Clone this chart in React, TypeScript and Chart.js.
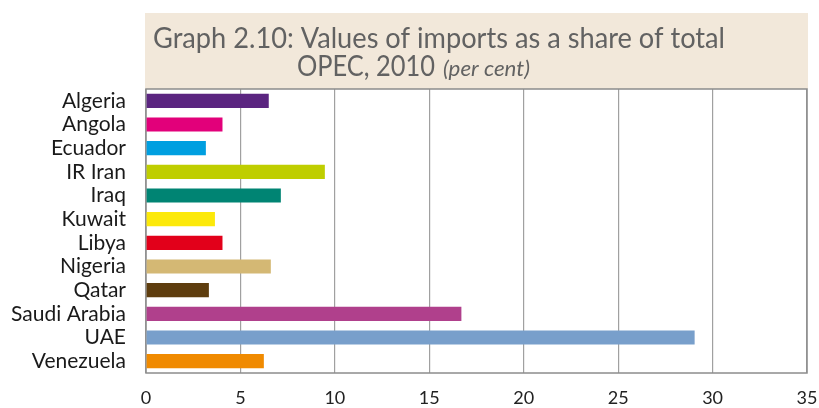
import React, { useEffect, useRef } from 'react';
import { Chart, registerables } from 'chart.js';

Chart.register(...registerables);

const categories = ['Algeria', 'Angola', 'Ecuador', 'IR Iran', 'Iraq', 'Kuwait', 'Libya', 'Nigeria', 'Qatar', 'Saudi Arabia', 'UAE', 'Venezuela'];
const values = [6.5, 4.05, 3.17, 9.47, 7.14, 3.65, 4.05, 6.61, 3.33, 16.7, 29.05, 6.24];
const barColors = ['#5B2580', '#E2007A', '#009FE0', '#BFCE00', '#008473', '#FCE90A', '#E2001A', '#D4B874', '#5E3D0E', '#B0408C', '#789FCB', '#F08A00'];
const xMin = 0;
const xMax = 35;
const xStep = 5;
const titleLine1 = 'Graph 2.10: Values of imports as a share of total';
const titleLine2 = 'OPEC, 2010';
const titleUnit = '(per cent)';

const titlePlugin = {
  id: 'titleBox',
  beforeDraw(chart: any) {
    const ctx = chart.ctx;
    ctx.save();
    ctx.fillStyle = '#F2E8DA';
    ctx.fillRect(145, 13, 663, 76);
    ctx.fillStyle = '#626262';
    ctx.textBaseline = 'alphabetic';
    ctx.textAlign = 'left';
    ctx.font = '28px Lato';
    const w1 = ctx.measureText(titleLine1).width;
    const sx = 572 / w1;
    ctx.save();
    ctx.translate(153, 48);
    ctx.scale(sx, 1);
    ctx.fillText(titleLine1, 0, 0);
    ctx.restore();
    const w2 = ctx.measureText(titleLine2).width;
    ctx.save();
    ctx.translate(297, 76);
    ctx.scale(138 / w2, 1);
    ctx.fillText(titleLine2, 0, 0);
    ctx.restore();
    ctx.font = 'italic 21px Lato';
    const w3 = ctx.measureText(titleUnit).width;
    ctx.save();
    ctx.translate(443, 76);
    ctx.scale(87 / w3, 1);
    ctx.fillText(titleUnit, 0, 0);
    ctx.restore();
    ctx.restore();
  },
  beforeDatasetsDraw(chart: any) {
    const { ctx, chartArea } = chart;
    ctx.save();
    ctx.strokeStyle = '#8c8c8c';
    ctx.lineWidth = 1.5;
    ctx.strokeRect(chartArea.left, chartArea.top, chartArea.right - chartArea.left, chartArea.bottom - chartArea.top);
    ctx.restore();
  },
};

export default function App() {
  const ref = useRef<HTMLCanvasElement>(null);
  useEffect(() => {
    if (!ref.current) return;
    const chart = new Chart(ref.current, {
      type: 'bar',
      data: {
        labels: categories,
        datasets: [
          {
            data: values,
            backgroundColor: barColors,
            borderWidth: 0,
            barPercentage: 0.6,
            categoryPercentage: 1,
          },
        ],
      },
      options: {
        indexAxis: 'y',
        responsive: false,
        animation: false,
        layout: { padding: { top: 89, right: 12, left: 0, bottom: 0 } },
        plugins: { legend: { display: false }, tooltip: { enabled: false } },
        scales: {
          x: {
            min: xMin,
            max: xMax,
            ticks: { stepSize: xStep, color: '#222', font: { family: 'Lato', size: 18 }, padding: 14 },
            grid: { color: '#a0a0a0', lineWidth: 1.2, drawTicks: false },
            border: { display: false },
            afterFit(scale: any) {
              scale.height = 35;
              scale.paddingRight = 0;
              scale.paddingLeft = 0;
            },
          },
          y: {
            ticks: { color: '#1a1a1a', font: { family: 'Lato', size: 21 }, padding: 20, autoSkip: false },
            grid: { display: false, drawTicks: false },
            border: { display: false },
            afterFit(scale: any) {
              scale.width = 146;
              scale.paddingTop = 0;
              scale.paddingBottom = 0;
            },
          },
        },
      },
      plugins: [titlePlugin],
    });
    return () => chart.destroy();
  }, []);
  return (
    <div style={{ position: 'fixed', left: 0, top: 0, width: 819, height: 408, background: '#fff' }}>
      <canvas ref={ref} width={819} height={408} />
    </div>
  );
}
